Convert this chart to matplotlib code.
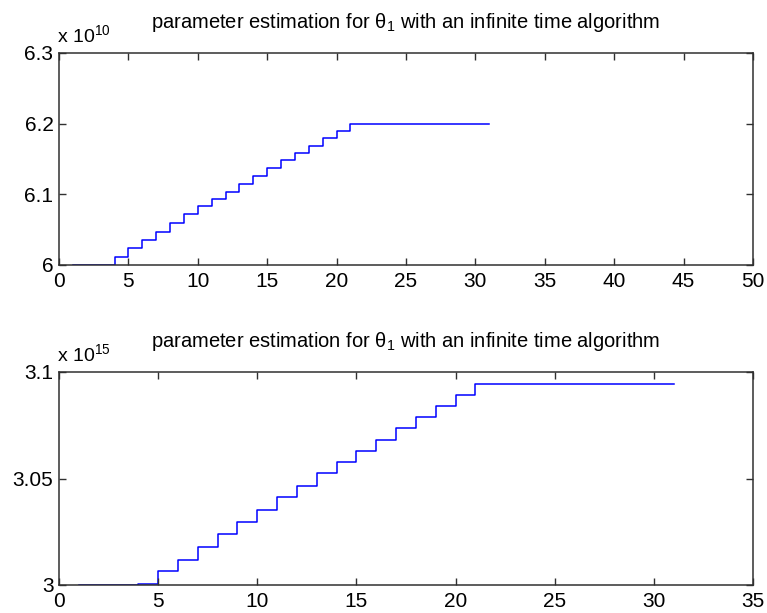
import numpy as np
import matplotlib
matplotlib.use("Agg")
import matplotlib.pyplot as plt

plt.rcParams['font.family'] = ['Liberation Sans', 'DejaVu Sans']
plt.rcParams['mathtext.fontset'] = 'custom'
plt.rcParams['mathtext.rm'] = 'Liberation Sans'
plt.rcParams['mathtext.it'] = 'Liberation Sans'

# iteration index of the estimator
k = list(range(1, 32))

# theta_1 estimate, first run (mantissa, x 10^10)
theta_a = [6.0, 6.0, 6.0, 6.012, 6.024, 6.035, 6.047, 6.060, 6.072, 6.083,
           6.094, 6.103, 6.115, 6.126, 6.137, 6.149, 6.158, 6.169, 6.180, 6.190,
           6.2, 6.2, 6.2, 6.2, 6.2, 6.2, 6.2, 6.2, 6.2, 6.2, 6.2]
exp_a = 10

# theta_1 estimate, second run (mantissa, x 10^15)
theta_b = [3.0, 3.0, 3.0, 3.0006, 3.0064, 3.0118, 3.0177, 3.0238, 3.0298, 3.0351,
           3.0412, 3.0464, 3.0524, 3.0577, 3.0630, 3.0682, 3.0735, 3.0787, 3.0840, 3.0894,
           3.0945, 3.0945, 3.0945, 3.0945, 3.0945, 3.0945, 3.0945, 3.0945, 3.0945, 3.0945, 3.0945]
exp_b = 15

xticks_a = list(range(0, 51, 5))
yticks_a = [6.0, 6.1, 6.2, 6.3]
ylabels_a = ["6", "6.1", "6.2", "6.3"]

xticks_b = list(range(0, 36, 5))
yticks_b = [3.0, 3.05, 3.1]
ylabels_b = ["3", "3.05", "3.1"]

title = "parameter estimation for θ$_1$ with an infinite time algorithm"

W, H = 767, 613
fig = plt.figure(figsize=(W / 100, H / 100), dpi=100)

def box(l, t, r, b):
    return [l / W, 1 - b / H, (r - l) / W, (b - t) / H]

ax1 = fig.add_axes(box(59, 53, 753, 265))
ax2 = fig.add_axes(box(59, 372, 753, 585))

panels = [
    (ax1, theta_a, exp_a, xticks_a, yticks_a, ylabels_a, (0, 50), (6.0, 6.3)),
    (ax2, theta_b, exp_b, xticks_b, yticks_b, ylabels_b, (0, 35), (3.0, 3.1)),
]

edge = '#303030'
for ax, y, ex, xt, yt, yl, xlim, ylim in panels:
    ax.step(k, y, where='post', color='#0000ff', lw=1.1, zorder=1)
    ax.set_xlim(*xlim)
    ax.set_ylim(*ylim)
    ax.set_xticks(xt)
    ax.set_xticklabels([str(v) for v in xt])
    ax.set_yticks(yt)
    ax.set_yticklabels(yl)
    ax.tick_params(direction='in', length=5, width=1, top=True, right=True,
                   labelsize=15, colors=edge, labelcolor='black')
    ax.tick_params(axis='x', pad=5)
    ax.tick_params(axis='y', pad=4)
    for s in ax.spines.values():
        s.set_color(edge)
        s.set_linewidth(1.1)
        s.set_zorder(3)
    ax.set_title(title, fontsize=14.5, pad=18)
    ax.text(-0.003, 1.05, r"x 10$^{%d}$" % ex, transform=ax.transAxes,
            fontsize=14, ha='left', va='baseline')

fig.savefig("out.png", dpi=100)
